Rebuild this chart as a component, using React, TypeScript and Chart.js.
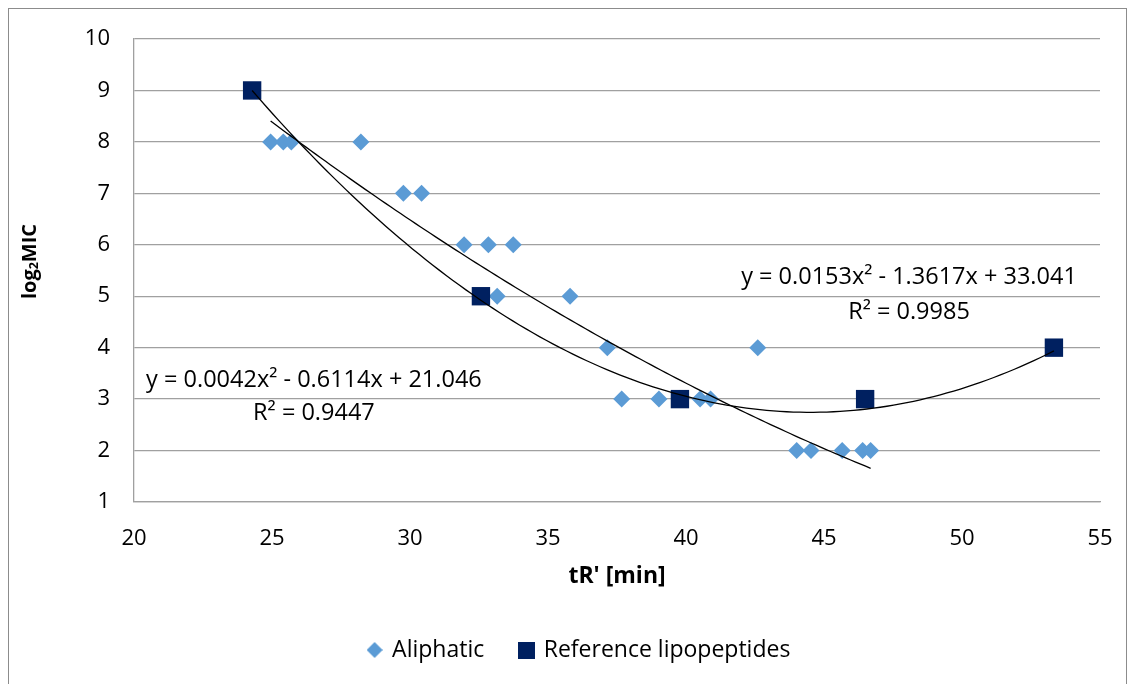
import React, { useEffect, useRef } from "react";
import { Chart, registerables } from "chart.js";

Chart.register(...registerables);

// ---- data ----
const aliphaticX = [24.95, 25.41, 25.7, 28.22, 29.76, 30.42, 31.96, 32.84, 33.74, 33.16, 35.8, 37.15, 42.6, 37.67, 39.02, 40.51, 40.89, 44.01, 44.53, 45.66, 46.4, 46.69];
const aliphaticY = [8, 8, 8, 8, 7, 7, 6, 6, 6, 5, 5, 4, 4, 3, 3, 3, 3, 2, 2, 2, 2, 2];
const referenceX = [24.28, 32.57, 39.78, 46.49, 53.33];
const referenceY = [9, 5, 3, 3, 4];

// trendline coefficients (a, b, c) shown on the chart
const aliphaticFit = [0.0042, -0.6114, 21.046];
const referenceFit = [0.0153, -1.3617, 33.041];
const aliphaticEq = "y = 0.0042x² - 0.6114x + 21.046";
const aliphaticR2 = "R² = 0.9447";
const referenceEq = "y = 0.0153x² - 1.3617x + 33.041";
const referenceR2 = "R² = 0.9985";

const seriesNames = ["Aliphatic", "Reference lipopeptides"];
const xTitle = "tR' [min]";
const yTitleParts = ["log", "2", "MIC"];

const FONT = "'Open Sans', 'Noto Sans', sans-serif";
const ALIPHATIC_COLOR = "#5B9BD5";
const REFERENCE_COLOR = "#002060";

function fitLine(coef: number[], xs: number[]) {
  const lo = Math.min(...xs);
  const hi = Math.max(...xs);
  const n = 120;
  const pts = [] as { x: number; y: number }[];
  for (let i = 0; i <= n; i++) {
    const x = lo + ((hi - lo) * i) / n;
    pts.push({ x, y: coef[0] * x * x + coef[1] * x + coef[2] });
  }
  return pts;
}

function markerImage(kind: "diamond" | "square", size: number, color: string) {
  const c = document.createElement("canvas");
  c.width = size;
  c.height = size;
  const g = c.getContext("2d")!;
  g.fillStyle = color;
  if (kind === "square") {
    g.fillRect(0, 0, size, size);
  } else {
    g.beginPath();
    g.moveTo(size / 2, 0);
    g.lineTo(size, size / 2);
    g.lineTo(size / 2, size);
    g.lineTo(0, size / 2);
    g.closePath();
    g.fill();
  }
  return c;
}

const labelPlugin = {
  id: "trendLabels",
  afterLayout(chart: any) {
    const l = chart.legend;
    if (l) {
      l.left += 25;
      l.right += 25;
    }
  },
  afterDatasetsDraw(chart: any) {
    const { ctx, scales, chartArea } = chart;
    const xs = scales.x;
    const ys = scales.y;
    ctx.save();
    ctx.fillStyle = "#000";
    ctx.font = `23.5px ${FONT}`;
    ctx.textAlign = "center";
    ctx.textBaseline = "middle";
    const items: [string, number, number][] = [
      [aliphaticEq, 26.52, 3.36],
      [aliphaticR2, 26.52, 2.72],
      [referenceEq, 48.08, 5.36],
      [referenceR2, 48.08, 4.68],
    ];
    for (const [t, x, y] of items) {
      ctx.fillText(t, xs.getPixelForValue(x), ys.getPixelForValue(y));
    }
    // y-axis title with a subscript 2
    const big = `bold 20px ${FONT}`;
    const small = `bold 12.5px ${FONT}`;
    ctx.font = big;
    const w1 = ctx.measureText(yTitleParts[0]).width;
    const w3 = ctx.measureText(yTitleParts[2]).width;
    ctx.font = small;
    const w2 = ctx.measureText(yTitleParts[1]).width;
    const total = w1 + w2 + w3;
    const cy = (chartArea.top + chartArea.bottom) / 2 - 9;
    ctx.translate(21, cy);
    ctx.rotate(-Math.PI / 2);
    ctx.textAlign = "left";
    ctx.textBaseline = "middle";
    let x = -total / 2;
    ctx.font = big;
    ctx.fillText(yTitleParts[0], x, 0);
    x += w1;
    ctx.font = small;
    ctx.fillText(yTitleParts[1], x, 4);
    x += w2;
    ctx.font = big;
    ctx.fillText(yTitleParts[2], x, 0);
    ctx.restore();
  },
};

export default function App() {
  const ref = useRef<HTMLCanvasElement | null>(null);
  useEffect(() => {
    if (!ref.current) return;
    const diamondImg = markerImage("diamond", 16, ALIPHATIC_COLOR);
    const squareImg = markerImage("square", 17, REFERENCE_COLOR);
    const chart = new Chart(ref.current, {
      type: "scatter",
      data: {
        datasets: [
          {
            label: "fitA",
            type: "line",
            data: fitLine(aliphaticFit, aliphaticX),
            borderColor: "#000",
            borderWidth: 1.3,
            pointRadius: 0,
            fill: false,
            order: 0,
          } as any,
          {
            label: "fitR",
            type: "line",
            data: fitLine(referenceFit, referenceX),
            borderColor: "#000",
            borderWidth: 1.3,
            pointRadius: 0,
            fill: false,
            order: 0,
          } as any,
          {
            label: seriesNames[1],
            data: referenceX.map((x, i) => ({ x, y: referenceY[i] })),
            pointStyle: "rect",
            pointRadius: 13,
            pointHoverRadius: 13,
            backgroundColor: REFERENCE_COLOR,
            borderColor: REFERENCE_COLOR,
            borderWidth: 0,
            order: 1,
          },
          {
            label: seriesNames[0],
            data: aliphaticX.map((x, i) => ({ x, y: aliphaticY[i] })),
            pointStyle: "rectRot",
            pointRadius: 8.5,
            pointHoverRadius: 8.5,
            backgroundColor: ALIPHATIC_COLOR,
            borderColor: ALIPHATIC_COLOR,
            borderWidth: 0,
            order: 2,
          },
        ],
      },
      options: {
        animation: false,
        responsive: false,
        maintainAspectRatio: false,
        layout: { padding: { left: 0, right: 26, top: 30, bottom: 35.5 } },
        plugins: {
          tooltip: { enabled: false },
          legend: {
            position: "bottom",
            labels: {
              usePointStyle: true,
              boxWidth: 12,
              boxHeight: 12,
              padding: 36,
              color: "#000",
              font: { family: FONT, size: 23 },
              generateLabels: () => [
                { text: seriesNames[0], datasetIndex: 3, pointStyle: diamondImg, fontColor: "#000", lineWidth: 0, hidden: false },
                { text: seriesNames[1], datasetIndex: 2, pointStyle: squareImg, fontColor: "#000", lineWidth: 0, hidden: false },
              ],
            },
          },
        },
        scales: {
          x: {
            type: "linear",
            min: 20,
            max: 55,
            afterFit: (s: any) => {
              s.height = 100.5;
            },
            ticks: { stepSize: 5, color: "#000", font: { family: FONT, size: 22 }, padding: 0 },
            grid: { display: false, drawTicks: true, tickLength: 24, tickColor: "rgba(0,0,0,0)" },
            border: { display: true, color: "#A0A0A0", width: 1.3 },
            title: {
              display: true,
              text: xTitle,
              color: "#000",
              font: { family: FONT, size: 23, weight: "bold" },
              padding: { top: 0, bottom: 12 },
            },
          },
          y: {
            type: "linear",
            min: 1,
            max: 10,
            afterFit: (s: any) => {
              s.width = 125;
            },
            ticks: { stepSize: 1, color: "#000", font: { family: FONT, size: 22 }, padding: 0 },
            grid: { color: "#A0A0A0", lineWidth: 1.3, drawTicks: true, tickLength: 24, tickColor: "rgba(0,0,0,0)" },
            border: { display: true, color: "#A0A0A0", width: 1.3 },
            title: { display: false },
          },
        },
      },
      plugins: [labelPlugin],
    } as any);
    return () => chart.destroy();
  }, []);

  return (
    <div style={{ border: "1px solid #8c8c8c", width: 1117, height: 698 }}>
      <canvas ref={ref} width={1117} height={698} style={{ display: "block", width: 1117, height: 698 }} />
    </div>
  );
}
